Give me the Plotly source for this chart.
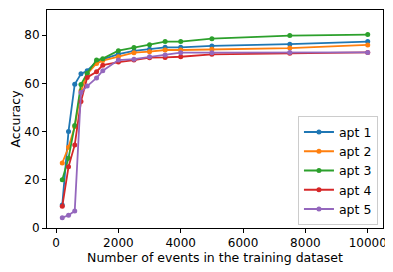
import plotly.graph_objects as go

events = [200, 400, 600, 800, 1000, 1300, 1500, 2000, 2500, 3000, 3500, 4000, 5000, 7500, 10000]

apt1 = [9.5, 40.1, 59.7, 64.0, 65.3, 69.0, 70.0, 72.2, 73.5, 74.2, 75.0, 75.0, 75.6, 76.3, 77.4]
apt2 = [27.0, 33.5, 42.0, 57.0, 64.0, 68.3, 69.5, 71.1, 72.8, 73.2, 73.9, 73.9, 74.2, 74.7, 76.0]
apt3 = [20.0, 29.0, 42.6, 59.6, 64.2, 69.7, 70.3, 73.6, 74.9, 76.1, 77.4, 77.4, 78.6, 79.9, 80.3]
apt4 = [9.0, 25.4, 34.5, 52.5, 62.5, 64.9, 67.6, 68.9, 69.7, 70.7, 70.8, 71.1, 72.1, 72.5, 72.9]
apt5 = [4.3, 5.3, 7.1, 56.3, 58.9, 62.3, 65.3, 69.7, 70.1, 71.1, 71.8, 72.8, 72.8, 72.9, 72.9]

series = [("apt 1", apt1), ("apt 2", apt2), ("apt 3", apt3), ("apt 4", apt4), ("apt 5", apt5)]
colors = ["#1f77b4", "#ff7f0e", "#2ca02c", "#d62728", "#9467bd"]

x_ticks = [0, 2000, 4000, 6000, 8000, 10000]
y_ticks = [0, 20, 40, 60, 80]

fig = go.Figure()
for (name, vals), c in zip(series, colors):
    fig.add_trace(go.Scatter(
        x=events, y=vals, name=name, mode="lines+markers",
        line=dict(color=c, width=1.8),
        marker=dict(color=c, size=5),
    ))

font = dict(family="DejaVu Sans", size=12.5, color="#000000")
tfont = dict(family="DejaVu Sans", size=12, color="#000000")
axis_common = dict(
    showgrid=False, zeroline=False, showline=True, linecolor="#000000", linewidth=1,
    mirror=True, ticks="outside", ticklen=4, tickwidth=1, tickcolor="#000000",
    tickfont=tfont, automargin=False,
)
# page body has an 8px default margin: figure is 385x264 placed at (8, 8)
fig.update_layout(
    width=385, height=264,
    margin=dict(l=39, r=10, t=2, b=44),
    paper_bgcolor="white", plot_bgcolor="white",
    font=font,
    showlegend=True,
    legend=dict(
        x=0.985, y=0.012, xanchor="right", yanchor="bottom",
        bordercolor="#cccccc", borderwidth=1, bgcolor="rgba(255,255,255,0.8)",
        font=dict(family="DejaVu Sans", size=12.5, color="#000000"),
        itemwidth=30,
    ),
    xaxis=dict(range=[-290, 10490], tickvals=x_ticks, ticktext=[str(v) for v in x_ticks],
               title=dict(text="Number of events in the training dataset", font=font, standoff=3),
               **axis_common),
    yaxis=dict(range=[0, 90.5], tickvals=y_ticks, ticktext=[str(v) for v in y_ticks],
               title=dict(text="Accuracy", font=font, standoff=9),
               **axis_common),
)

fig.write_html("out.html")
